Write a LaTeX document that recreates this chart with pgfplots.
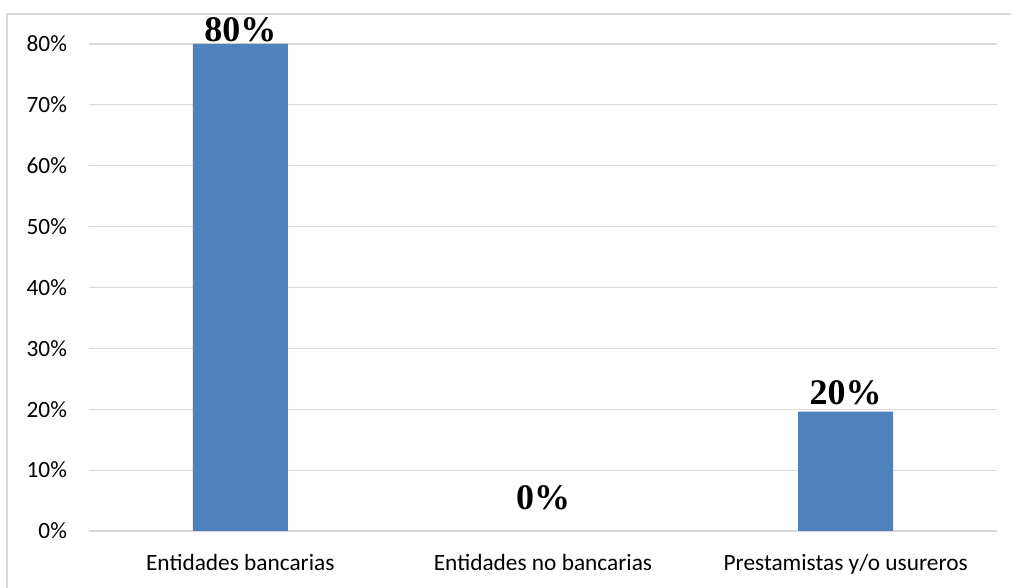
\documentclass[border=0pt]{standalone}
\usepackage{pgfplots}
\pgfplotsset{compat=1.18}
\usepackage{fontspec}
\setmainfont{Carlito}
\newfontfamily\lblfont{Liberation Serif}
\definecolor{barblue}{HTML}{4F81BD}
\definecolor{gridgray}{HTML}{D9D9D9}
\begin{document}
\begin{tikzpicture}
% 1px = 0.75pt, axis lower-left at reference pixel (89,531)
\useasboundingbox (-66.75pt,-42.75pt) rectangle (691.5pt,398.25pt);
\draw[gridgray, line width=1.2pt] (-61.5pt,-42.75pt) -- (-61.5pt,387.75pt) -- (691.5pt,387.75pt);
\begin{axis}[
    at={(0pt,0pt)}, anchor=south west,
    scale only axis,
    width=681pt, height=365.25pt,
    xmin=-0.5, xmax=2.5,
    ymin=0, ymax=80,
    axis line style={draw=none},
    major tick length=0pt,
    ymajorgrids=true,
    grid style={gridgray, line width=0.9pt},
    ytick={0,10,...,80},
    yticklabel={\pgfmathprintnumber{\tick}\%},
    /pgf/number format/assume math mode=true,
    xtick={0,1,2},
    xticklabels={Entidades bancarias, Entidades no bancarias, Prestamistas y/o usureros},
    tick label style={font=\fontsize{17.5}{21}\selectfont, text=black},
    yticklabel style={xshift=-13pt},
    xticklabel style={yshift=-14pt},
    clip=false,
]
\addplot[ybar, bar width=71.25pt, fill=barblue, draw=none] coordinates {(0,80) (2,19.6)};
\addplot[draw=none, nodes near coords, point meta=explicit symbolic,
    nodes near coords style={anchor=south, inner sep=1.5pt, font=\lblfont\bfseries\fontsize{27}{30}\selectfont}]
    coordinates {(0,80)[80\%] (1,3)[0\%] (2,20.4)[20\%]};
\end{axis}
\end{tikzpicture}
\end{document}
